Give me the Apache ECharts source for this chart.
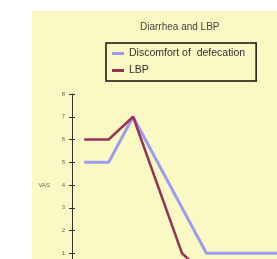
<!DOCTYPE html>
<html>
<head>
<meta charset="utf-8">
<script src="https://cdn.jsdelivr.net/npm/echarts@6/dist/echarts.min.js"></script>
<style>
html,body{margin:0;padding:0;background:#fff;}
#c{width:277px;height:259px;}
</style>
</head>
<body>
<div id="c"></div>
<script>
var categories = ['1','2','3','4','5','6','7','8','9'];
var discomfort = [5,5,7,5,3,1,1,1,1];
var lbp = [6,6,7,4,1,0,0,0,0];
var yTicks = [0,1,2,3,4,5,6,7,8];
var titleText = 'Diarrhea and LBP';
var seriesNames = ['Discomfort of  defecation','LBP'];
var yName = 'VAS';

var chart = echarts.init(document.getElementById('c'), null, {renderer:'canvas'});
var bg = '#FBF9C3';
chart.setOption({
  animation:false,
  backgroundColor:'#ffffff',
  graphic:[{type:'rect', left:32, top:11, z:-10, shape:{width:260, height:260}, style:{fill:bg}}],
  title:{text:titleText, left:135, top:17,
    textStyle:{fontFamily:'Liberation Sans', fontSize:10, fontWeight:'normal', color:'#444'}},
  legend:{orient:'vertical', left:106, top:43, padding:[4,11,4,6], itemGap:4,
    borderColor:'#111', borderWidth:1.5, backgroundColor:bg,
    icon:'rect', itemWidth:12, itemHeight:3,
    textStyle:{fontFamily:'Liberation Sans', fontSize:10.5, color:'#333', lineHeight:13},
    data:seriesNames},
  grid:{left:72, top:94, width:220, height:182, outerBoundsMode:'none', containLabel:false},
  xAxis:{type:'category', data:categories, boundaryGap:true, show:false},
  yAxis:[{type:'value', min:yTicks[0], max:yTicks[yTicks.length-1], interval:1,
    name:yName, nameLocation:'middle', nameRotate:0, nameGap:22,
    nameTextStyle:{fontFamily:'Liberation Sans', fontSize:6, color:'#666'},
    axisLine:{show:true, lineStyle:{color:'#333', width:1}},
    axisTick:{show:true, length:3, lineStyle:{color:'#333'}},
    axisLabel:{fontFamily:'Liberation Sans', fontSize:6, color:'#666', margin:7,
      formatter:function(v){return v===0?'':String(v);}},
    splitLine:{show:false}},
   {type:'value', position:'left', min:yTicks[0], max:yTicks[yTicks.length-1], interval:1,
    axisLine:{show:false}, axisTick:{show:true, inside:true, length:3, lineStyle:{color:'#333'}},
    axisLabel:{show:false}, splitLine:{show:false}}],
  series:[
    {name:seriesNames[0], type:'line', data:discomfort, symbol:'none', yAxisIndex:0,
      lineStyle:{color:'#9C9CF2', width:3}, itemStyle:{color:'#9C9CF2'}},
    {name:seriesNames[1], type:'line', data:lbp, symbol:'none', yAxisIndex:0,
      lineStyle:{color:'#993355', width:2.5}, itemStyle:{color:'#993355'}}
  ]
});
</script>
</body>
</html>
